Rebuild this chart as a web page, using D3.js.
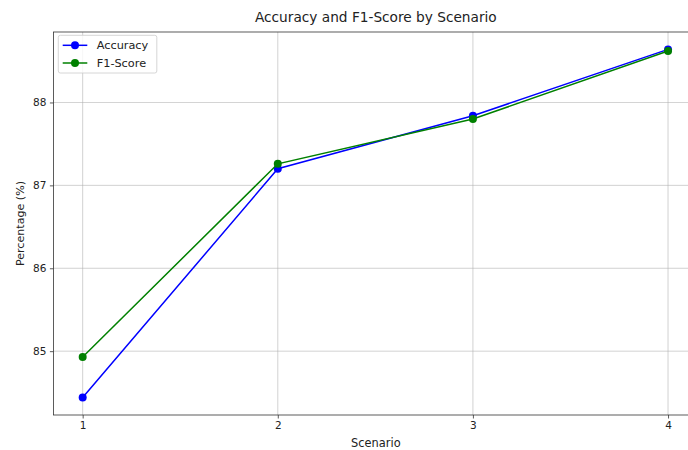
<!DOCTYPE html>
<html><head><meta charset="utf-8">
<script src="https://cdn.jsdelivr.net/npm/d3@7"></script>
<style>body{margin:0;background:#fff}svg{display:block;font-family:"DejaVu Sans",sans-serif}</style>
</head><body><svg id="c" width="688" height="450"></svg>
<script>
const scenarios = [1, 2, 3, 4];
const accuracy = [84.44, 87.20, 87.84, 88.64];
const f1Score = [84.93, 87.26, 87.80, 88.62];
const yTicks = [85, 86, 87, 88];
const seriesNames = ["Accuracy", "F1-Score"];
const colors = ["#0000ff", "#008000"];

const svg = d3.select("#c");
const L = 53.4, R = 697.3, T = 32, B = 415;
const x = d3.scaleLinear().domain([0.85, 4.15]).range([L, R]);
const y = d3.scaleLinear().domain([84.23, 88.85]).range([B, T]);

// grid
svg.append("g").selectAll("line").data(scenarios).join("line")
  .attr("x1", d => x(d)).attr("x2", d => x(d)).attr("y1", T).attr("y2", B)
  .attr("stroke", "#b0b0b0").attr("stroke-width", 0.8).attr("opacity", 0.7);
svg.append("g").selectAll("line").data(yTicks).join("line")
  .attr("x1", L).attr("x2", R).attr("y1", d => y(d)).attr("y2", d => y(d))
  .attr("stroke", "#b0b0b0").attr("stroke-width", 0.8).attr("opacity", 0.7);

// axes
const xAxis = d3.axisBottom(x).tickValues(scenarios).tickFormat(d3.format("d")).tickSize(3.5).tickPadding(3.5);
const yAxis = d3.axisLeft(y).tickValues(yTicks).tickFormat(d3.format("d")).tickSize(3.5).tickPadding(3.5);
const gx = svg.append("g").attr("transform", `translate(0,${B})`).call(xAxis);
const gy = svg.append("g").attr("transform", `translate(${L},0)`).call(yAxis);
[gx, gy].forEach(g => {
  g.select(".domain").remove();
  g.selectAll("text").attr("font-size", 10.5).attr("fill", "#222").attr("font-family", "DejaVu Sans");
  g.selectAll("line").attr("stroke", "#333").attr("stroke-width", 0.8);
});

// spines
svg.append("rect").attr("x", L).attr("y", T).attr("width", R - L).attr("height", B - T)
  .attr("fill", "none").attr("stroke", "#333").attr("stroke-width", 0.8);

// lines
const data = [accuracy, f1Score];
const line = d3.line().x((d, i) => x(scenarios[i])).y(d => y(d));
data.forEach((s, k) => {
  svg.append("path").datum(s).attr("d", line).attr("fill", "none")
    .attr("stroke", colors[k]).attr("stroke-width", 1.5);
  svg.append("g").selectAll("circle").data(s).join("circle")
    .attr("cx", (d, i) => x(scenarios[i])).attr("cy", d => y(d)).attr("r", 4)
    .attr("fill", colors[k]);
});

// title & labels
const cx = (L + R) / 2 + 0.5;
svg.append("text").attr("x", cx).attr("y", 22).attr("text-anchor", "middle")
  .attr("font-size", 13.7).attr("fill", "#222").text("Accuracy and F1-Score by Scenario");
svg.append("text").attr("x", cx).attr("y", 447).attr("text-anchor", "middle")
  .attr("font-size", 11.4).attr("fill", "#222").text("Scenario");
svg.append("text").attr("transform", `translate(23.5,${(T + B) / 2}) rotate(-90)`).attr("text-anchor", "middle")
  .attr("font-size", 11.1).attr("fill", "#222").text("Percentage (%)");

// legend
const lg = svg.append("g").attr("transform", `translate(58.3,35.3)`);
lg.append("rect").attr("width", 98.5).attr("height", 37.7).attr("rx", 2).attr("fill", "#fff")
  .attr("fill-opacity", 0.8).attr("stroke", "#ccc").attr("stroke-width", 0.8);
seriesNames.forEach((n, k) => {
  const yy = 10 + k * 17.7;
  lg.append("line").attr("x1", 4.4).attr("x2", 29).attr("y1", yy).attr("y2", yy)
    .attr("stroke", colors[k]).attr("stroke-width", 1.5);
  lg.append("circle").attr("cx", 16.7).attr("cy", yy).attr("r", 4).attr("fill", colors[k]);
  lg.append("text").attr("x", 38.4).attr("y", yy + 4).attr("font-size", 11.3).attr("fill", "#222").text(n);
});
</script></body></html>
